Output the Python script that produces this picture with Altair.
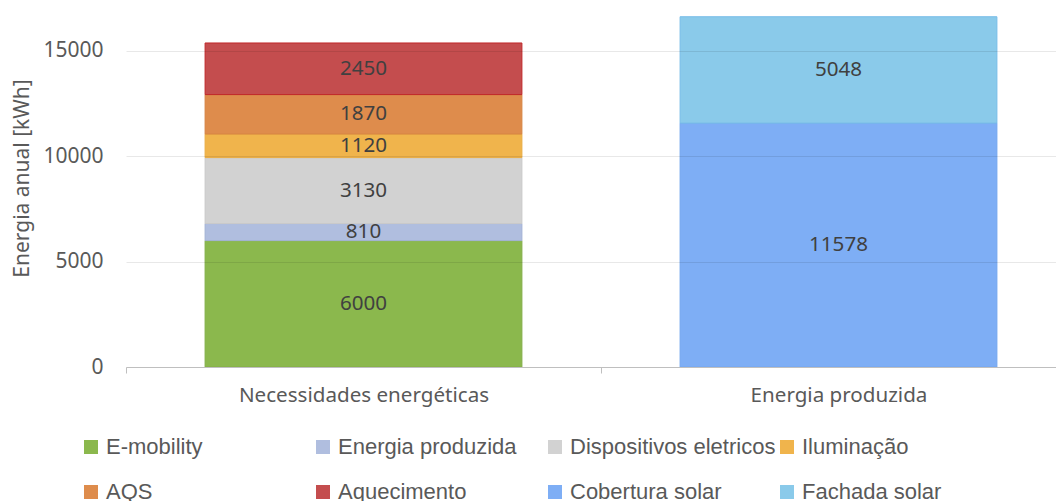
import altair as alt
import pandas as pd

categories = ["Necessidades energéticas"] * 6 + ["Energia produzida"] * 2
series = ["E-mobility", "Energia produzida", "Dispositivos eletricos", "Iluminação",
          "AQS", "Aquecimento", "Cobertura solar", "Fachada solar"]
values = [6000, 810, 3130, 1120, 1870, 2450, 11578, 5048]
stack_order = [1, 2, 3, 4, 5, 6, 1, 2]

cat_order = ["Necessidades energéticas", "Energia produzida"]
legend_order = ["E-mobility", "Energia produzida", "Dispositivos eletricos", "Iluminação",
                "AQS", "Aquecimento", "Cobertura solar", "Fachada solar"]
fill_colors = ["#8BB84D", "#B0BEDF", "#D2D2D2", "#F0B44C",
               "#DE8C4C", "#C44D4E", "#7EAEF5", "#8ACAEA"]
stroke_colors = ["#82AE47", "#A3B2D5", "#CACACA", "#EAAC42",
                 "#D68443", "#C0282A", "#74A6EF", "#78BDE8"]

df = pd.DataFrame({
    "cat": categories,
    "serie": series,
    "value": values,
    "order": stack_order,
    "strokec": stroke_colors,
})

FONT = "Noto Sans"
GRAY = "#595959"

base = alt.Chart(df).transform_stack(
    stack="value", groupby=["cat"], as_=["y0", "y1"], sort=[alt.SortField("order")]
).transform_calculate(ymid="(datum.y0 + datum.y1) / 2")

xscale = alt.Scale(paddingInner=0, paddingOuter=0)
yscale = alt.Scale(domain=[0, 17040], nice=False, zero=True)

xaxis = alt.Axis(labelAngle=0, tickBand="extent", domainColor="#BFBFBF",
                 tickColor="#BFBFBF", tickSize=6, labelPadding=12, labelLimit=0,
                 labelFont=FONT, labelFontSize=20.6, labelColor=GRAY,
                 grid=False, zindex=1)
yaxis = alt.Axis(values=[0, 5000, 10000, 15000], format="d", domain=False, ticks=False,
                 labelPadding=23, labelFont=FONT, labelFontSize=21,
                 labelColor=GRAY, titleFont=FONT, titleFontSize=21,
                 titleColor=GRAY, titleFontWeight="normal", titlePadding=10,
                 titleY=170,
                 grid=True, gridColor="#000000", gridOpacity=0.09, zindex=1)
YTITLE = "Energia anual [kWh]"

bars = base.mark_bar(width=alt.RelativeBandSize(0.667), strokeWidth=1).encode(
    x=alt.X("cat:N", sort=cat_order, scale=xscale, title=None, axis=xaxis),
    y=alt.Y("y0:Q", scale=yscale, title=YTITLE, axis=yaxis),
    y2="y1:Q",
    color=alt.Color("serie:N", scale=alt.Scale(domain=legend_order, range=fill_colors),
                    sort=legend_order,
                    legend=alt.Legend(title=None, orient="none", legendX=-46, legendY=428,
                                      columns=4, gridAlign="all", columnPadding=-9,
                                      padding=0, rowPadding=23, symbolType="square",
                                      symbolSize=196, symbolStrokeWidth=0,
                                      labelFont="Liberation Sans", labelLimit=0,
                                      labelFontSize=22, labelColor=GRAY, labelOffset=4,
                                      direction="horizontal")),
    stroke=alt.Stroke("strokec:N", scale=None),
)

text = base.mark_text(font=FONT, fontSize=20.6, color="#404040").encode(
    x=alt.X("cat:N", sort=cat_order, scale=xscale, title=None, axis=xaxis),
    y=alt.Y("ymid:Q", scale=yscale, title=YTITLE, axis=yaxis),
    text=alt.Text("value:Q", format="d"),
)

chart = alt.layer(bars, text).properties(
    width=950, height=359,
    autosize=alt.AutoSizeParams(type="none"),
    padding={"left": 118, "top": 0, "right": -20, "bottom": 134},
    background="white",
).configure_view(stroke=None)

chart.save("out.html", embed_options={"renderer": "svg", "actions": False})
